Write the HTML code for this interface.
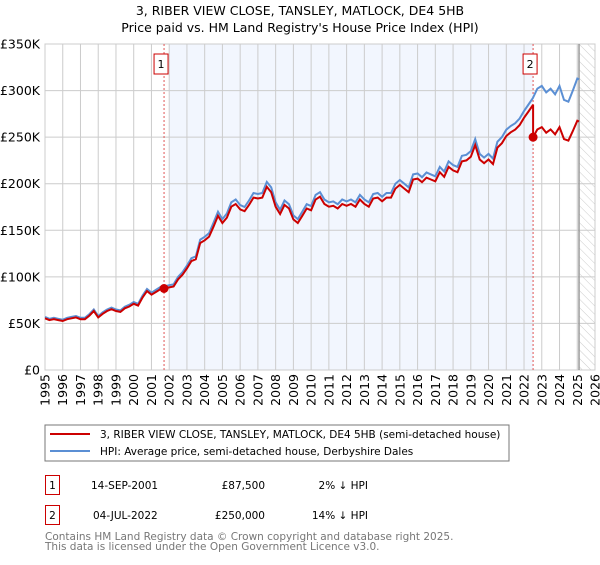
<!DOCTYPE html>
<html><head><meta charset="utf-8">
<style>
body{margin:0;background:#fff;font-family:"Liberation Sans","DejaVu Sans",sans-serif;}
svg text{font-family:"DejaVu Sans","Liberation Sans",sans-serif;}
</style></head>
<body>
<svg id="c" width="600" height="560" xmlns="http://www.w3.org/2000/svg">
<defs><pattern id="hatch" width="6" height="6" patternUnits="userSpaceOnUse" patternTransform="rotate(-45)"><line x1="0" y1="0" x2="0" y2="6" stroke="#ccc" stroke-width="1"/></pattern></defs>
<text x="300" y="15" text-anchor="middle" font-size="12.5" fill="#000">3, RIBER VIEW CLOSE, TANSLEY, MATLOCK, DE4 5HB</text>
<text x="300" y="32" text-anchor="middle" font-size="12.5" fill="#000">Price paid vs. HM Land Registry's House Price Index (HPI)</text>
<g id="plot"></g>
<rect x="45" y="425" width="464" height="36" fill="#fff" stroke="#777"/>
<line x1="50" y1="434" x2="90" y2="434" stroke="#cc0000" stroke-width="2"/>
<text x="100" y="438" font-size="10.5">3, RIBER VIEW CLOSE, TANSLEY, MATLOCK, DE4 5HB (semi-detached house)</text>
<line x1="50" y1="451" x2="90" y2="451" stroke="#5b8fd4" stroke-width="2"/>
<text x="100" y="455" font-size="10.5">HPI: Average price, semi-detached house, Derbyshire Dales</text>
<g>
<rect x="45.5" y="475.5" width="14" height="19" fill="#fff" stroke="#cc0000"/>
<text x="52.5" y="489" text-anchor="middle" font-size="10.5">1</text>
<text x="91" y="489" font-size="10.5">14-SEP-2001</text>
<text x="265" y="489" text-anchor="end" font-size="10.5">£87,500</text>
<text x="368" y="489" text-anchor="end" font-size="10.5">2% ↓ HPI</text>
</g>
<g>
<rect x="45.5" y="505.5" width="14" height="19" fill="#fff" stroke="#cc0000"/>
<text x="52.5" y="519" text-anchor="middle" font-size="10.5">2</text>
<text x="93" y="519" font-size="10.5">04-JUL-2022</text>
<text x="265" y="519" text-anchor="end" font-size="10.5">£250,000</text>
<text x="368" y="519" text-anchor="end" font-size="10.5">14% ↓ HPI</text>
</g>
<text x="45" y="540" font-size="10.5" fill="#777">Contains HM Land Registry data © Crown copyright and database right 2025.</text>
<text x="45" y="550" font-size="10.5" fill="#777">This data is licensed under the Open Government Licence v3.0.</text>
</svg>
<script>
const yTicks=[0,50,100,150,200,250,300,350];
const yTickLabels=["£0","£50K","£100K","£150K","£200K","£250K","£300K","£350K"];
const xYears=[1995,1996,1997,1998,1999,2000,2001,2002,2003,2004,2005,2006,2007,2008,2009,2010,2011,2012,2013,2014,2015,2016,2017,2018,2019,2020,2021,2022,2023,2024,2025,2026];
const hpiT=[1995,1995.25,1995.5,1995.75,1996,1996.25,1996.5,1996.75,1997,1997.25,1997.5,1997.75,1998,1998.25,1998.5,1998.75,1999,1999.25,1999.5,1999.75,2000,2000.25,2000.5,2000.75,2001,2001.25,2001.5,2001.75,2002,2002.25,2002.5,2002.75,2003,2003.25,2003.5,2003.75,2004,2004.25,2004.5,2004.75,2005,2005.25,2005.5,2005.75,2006,2006.25,2006.5,2006.75,2007,2007.25,2007.5,2007.75,2008,2008.25,2008.5,2008.75,2009,2009.25,2009.5,2009.75,2010,2010.25,2010.5,2010.75,2011,2011.25,2011.5,2011.75,2012,2012.25,2012.5,2012.75,2013,2013.25,2013.5,2013.75,2014,2014.25,2014.5,2014.75,2015,2015.25,2015.5,2015.75,2016,2016.25,2016.5,2016.75,2017,2017.25,2017.5,2017.75,2018,2018.25,2018.5,2018.75,2019,2019.25,2019.5,2019.75,2020,2020.25,2020.5,2020.75,2021,2021.25,2021.5,2021.75,2022,2022.25,2022.5,2022.75,2023,2023.25,2023.5,2023.75,2024,2024.25,2024.5,2024.75,2025,2025.1];
const hpiV=[57,55,56,55,54,56,57,58,56,56,60,65,58,62,65,67,65,64,68,70,73,71,80,87,83,86,89,90,91,92,100,105,112,120,122,140,143,147,158,170,162,168,180,183,177,175,182,190,189,190,202,196,180,172,182,178,166,162,170,178,176,188,191,183,180,181,178,183,181,183,180,188,183,180,189,190,186,190,190,200,204,200,196,210,211,207,212,210,208,218,213,224,220,218,230,231,235,248,232,228,232,227,245,250,258,262,265,270,278,285,292,302,305,298,302,296,305,290,288,300,313,312];
const saleT=[2001.71,2022.51];
const saleV=[87.5,250];
const saleLabels=["1","2"];
const x0=45,x1=595,y0=370,y1=44;
const xs=t=>x0+(t-1995)*(x1-x0)/31;
const ys=v=>y0-v*(y0-y1)/350;
const NS="http://www.w3.org/2000/svg";
const g=document.getElementById('plot');
function mk(tag,attrs,parent){const e=document.createElementNS(NS,tag);for(const k in attrs)e.setAttribute(k,attrs[k]);(parent||g).appendChild(e);return e;}
let r=mk('rect',{x:xs(2002),y:y1,width:xs(saleT[1])-xs(2002),height:y0-y1,fill:'#f2f6fe'});


let h=mk('rect',{x:xs(2025.1),y:y1,width:x1-xs(2025.1),height:y0-y1,fill:'url(#hatch)'});


xYears.forEach((yr,i)=>{
 const l=mk('line',{x1:xs(yr),x2:xs(yr),y1:y1,y2:y0,stroke:'#cccccc','stroke-width':1});
 
 
 const t=mk('text',{x:0,y:0,'font-size':12.5,'text-anchor':'end',transform:`translate(${xs(yr)+4.5},374) rotate(-90)`});
 t.textContent=yr;
 
 
});
yTicks.forEach((v,i)=>{
 const l=mk('line',{x1:x0,x2:x1,y1:ys(v),y2:ys(v),stroke:'#cccccc','stroke-width':1});
 
 
 const t=mk('text',{x:40,y:ys(v)+4.5,'font-size':12.5,'text-anchor':'end'});
 t.textContent=yTickLabels[i];
 
 
});
let fr=mk('rect',{x:x0,y:y1,width:x1-x0,height:y0-y1,fill:'none',stroke:'#cccccc'});


let nl=mk('line',{x1:xs(2025.1),x2:xs(2025.1),y1:y1,y2:y0,stroke:'#999','stroke-width':1.5});


saleT.forEach((t,i)=>{
 const l=mk('line',{x1:xs(t),x2:xs(t),y1:y1,y2:y0,stroke:'#e05555','stroke-width':1,'stroke-dasharray':'2,2'});
 
 
 const b=mk('rect',{x:xs(t)-10,y:54,width:14,height:20,fill:'#fff',stroke:'#cc0000'});
 
 
 const tx=mk('text',{x:xs(t)-3,y:68,'font-size':11,'text-anchor':'middle'});
 tx.textContent=saleLabels[i];
 
 
});
let d='';hpiT.forEach((t,i)=>{d+=(i?'L':'M')+xs(t).toFixed(1)+','+ys(hpiV[i]).toFixed(1);});
let hp=mk('path',{d:d,fill:'none',stroke:'#5b8fd4','stroke-width':2});


function hpiAt(t){for(let i=1;i<hpiT.length;i++){if(t<=hpiT[i]){const f=(t-hpiT[i-1])/(hpiT[i]-hpiT[i-1]);return hpiV[i-1]+f*(hpiV[i]-hpiV[i-1]);}}return hpiV[hpiV.length-1];}
const ratio1=saleV[0]/hpiAt(saleT[0]),ratio2=saleV[1]/hpiAt(saleT[1]);
let pts=[];
hpiT.forEach((t,i)=>{
 if(t<saleT[1]) pts.push([t,hpiV[i]*ratio1]);
 if(t>=saleT[1]-0.001 && i>0 && hpiT[i-1]<saleT[1]){pts.push([saleT[1],hpiAt(saleT[1])*ratio1]);pts.push([saleT[1],saleV[1]]);}
 if(t>saleT[1]) pts.push([t,hpiV[i]*ratio2]);
});
let d2='';pts.forEach((p,i)=>{d2+=(i?'L':'M')+xs(p[0]).toFixed(1)+','+ys(p[1]).toFixed(1);});
let pp=mk('path',{d:d2,fill:'none',stroke:'#cc0000','stroke-width':2});


saleT.forEach((t,i)=>{
 const c=mk('circle',{cx:xs(t),cy:ys(saleV[i]),r:4.5,fill:'#cc0000'});
 
 
});
</script>
</body></html>
